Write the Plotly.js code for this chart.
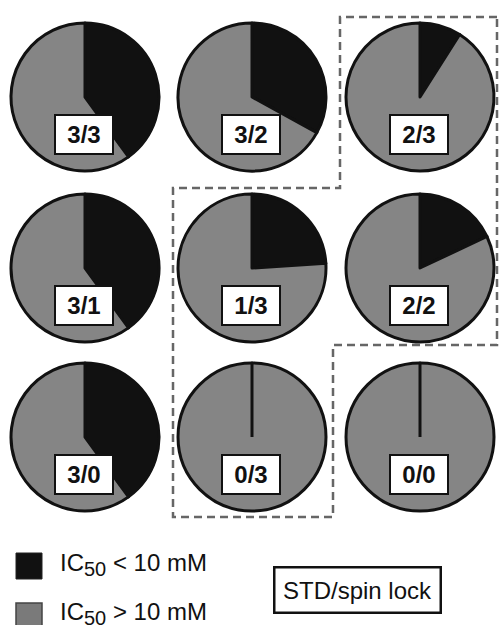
<!DOCTYPE html>
<html>
<head>
<meta charset="utf-8">
<script src="https://cdn.plot.ly/plotly-3.0.1.min.js"></script>
<style>html,body{margin:0;padding:0;background:#fff;}#chart{width:499px;height:625px;}</style>
</head>
<body>
<div id="chart"></div>
<script>
// ---- data ----
var pieLabels = ['3/3', '3/2', '2/3', '3/1', '1/3', '2/2', '3/0', '0/3', '0/0'];
var activePct = [40, 33, 9, 40, 24, 18, 40, 0, 0];      // IC50 < 10 mM (black)
var inactivePct = [60, 67, 91, 60, 76, 82, 60, 100, 100]; // IC50 > 10 mM (grey)
var seriesNames = ['IC<sub>50</sub> < 10 mM', 'IC<sub>50</sub> > 10 mM'];
var boxLabel = 'STD/spin lock';

// ---- layout constants ----
var W = 499, H = 625;
var colX = [85, 252, 420], rowY = [97, 268, 437], R = 74;
var BLACK = '#111111', GREY = '#858585';
function px(x) { return x / W; }
function py(y) { return 1 - y / H; }

var data = [], annotations = [], shapes = [];
pieLabels.forEach(function (lab, i) {
  var cx = colX[i % 3], cy = rowY[Math.floor(i / 3)];
  data.push({
    type: 'pie',
    values: [activePct[i], inactivePct[i]],
    labels: ['active', 'inactive'],
    sort: false,
    direction: 'clockwise',
    rotation: 0,
    textinfo: 'none',
    hoverinfo: 'none',
    showlegend: false,
    marker: { colors: [BLACK, GREY], line: { color: BLACK, width: 3 } },
    domain: { x: [px(cx - R), px(cx + R)], y: [py(cy + R), py(cy - R)] }
  });
  // a zero-size slice still shows its border: a radius at the start angle (12 o'clock)
  if (activePct[i] === 0) {
    shapes.push({ type: 'line', xref: 'paper', yref: 'paper',
      x0: px(cx), x1: px(cx), y0: py(cy), y1: py(cy - R + 1),
      line: { color: BLACK, width: 3 } });
  }
  annotations.push({
    xref: 'paper', yref: 'paper', x: px(cx - 1), y: py(cy + 37),
    xanchor: 'center', yanchor: 'middle', showarrow: false,
    text: '<b>' + lab + '</b>',
    font: { family: 'Liberation Sans, Arial, sans-serif', size: 24, color: '#111' },
    bgcolor: '#ffffff', bordercolor: BLACK, borderwidth: 2, borderpad: 0,
    width: 56, height: 37
  });
});

// dashed outline
var pts = [[497, 17], [340, 17], [340, 188], [173, 188], [173, 517], [333, 517], [333, 345], [497, 345]];
var path = pts.map(function (p, k) { return (k ? 'L' : 'M') + px(p[0]) + ',' + py(p[1]); }).join('') + 'Z';
shapes.push({ type: 'path', xref: 'paper', yref: 'paper', path: path,
  line: { color: '#666666', width: 2.5, dash: '8px,5px' }, layer: 'below' });

// legend squares
shapes.push({ type: 'rect', xref: 'paper', yref: 'paper', x0: px(16), x1: px(42), y0: py(579), y1: py(553),
  fillcolor: BLACK, line: { color: '#222', width: 1 } });
shapes.push({ type: 'rect', xref: 'paper', yref: 'paper', x0: px(16), x1: px(42), y0: py(629), y1: py(603),
  fillcolor: '#7a7a7a', line: { color: '#444', width: 1.5 } });

var legendY = [564, 613];
seriesNames.forEach(function (t, k) {
  annotations.push({
    xref: 'paper', yref: 'paper', x: px(58), y: py(legendY[k]),
    xanchor: 'left', yanchor: 'middle', showarrow: false,
    text: t.replace('<sub>50</sub>', '<sub><span style="font-size:20px">50</span></sub>'),
    font: { family: 'Liberation Sans, Arial, sans-serif', size: 24, color: '#111' }
  });
});

annotations.push({
  xref: 'paper', yref: 'paper', x: px(357.5), y: py(590),
  xanchor: 'center', yanchor: 'middle', showarrow: false, text: boxLabel,
  font: { family: 'Liberation Sans, Arial, sans-serif', size: 24, color: '#111' },
  bgcolor: '#ffffff', bordercolor: BLACK, borderwidth: 2.5, borderpad: 0,
  width: 164, height: 43
});

var layout = {
  width: W, height: H,
  margin: { l: 0, r: 0, t: 0, b: 0 },
  paper_bgcolor: '#ffffff', plot_bgcolor: '#ffffff',
  showlegend: false,
  shapes: shapes, annotations: annotations
};
Plotly.newPlot('chart', data, layout, { staticPlot: true, displayModeBar: false });
</script>
</body>
</html>
